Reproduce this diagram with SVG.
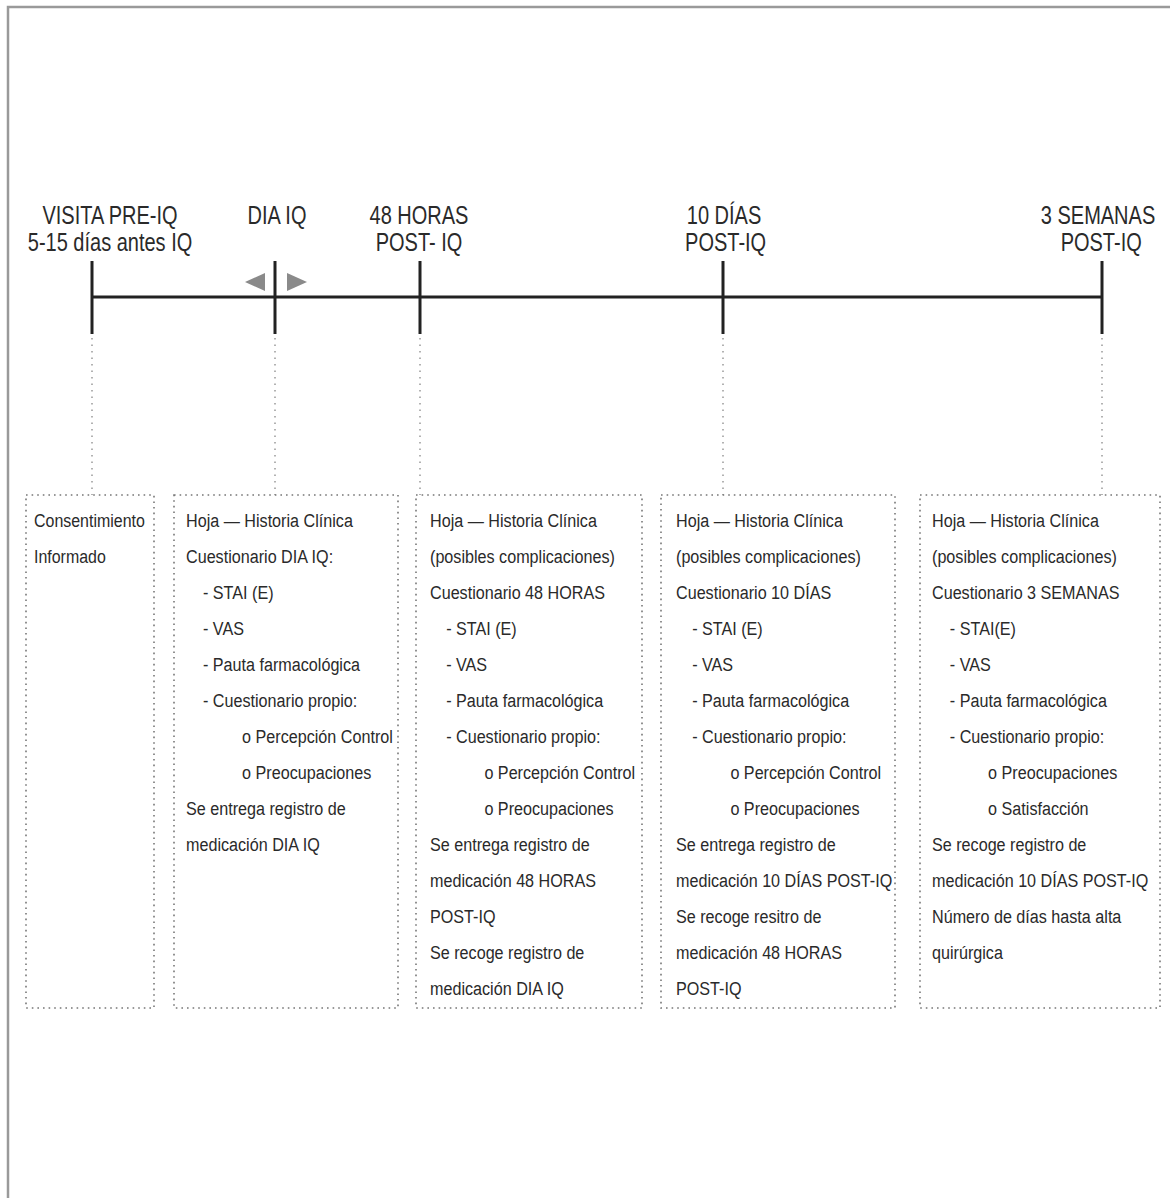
<svg xmlns="http://www.w3.org/2000/svg" width="1170" height="1198" viewBox="0 0 1170 1198">
<style>
text{font-family:"Liberation Sans",Arial,sans-serif;fill:#2a2a2a}
.h{font-size:25px;text-anchor:middle}
.t{font-size:19px}
.box{fill:none;stroke:#777;stroke-width:1.6;stroke-dasharray:1.6 4}
.drop{fill:none;stroke:#999;stroke-width:1.5;stroke-dasharray:1.5 5}
.axis{stroke:#222;stroke-width:3;fill:none}
.arr{fill:#8a8a8a}
</style>
<rect x="0" y="0" width="1170" height="1198" fill="#fff"/>
<path d="M8 1198 V7 H1170" fill="none" stroke="#9a9a9a" stroke-width="2.5"/>
<g id="connectors">
<path class="axis" d="M92 297 H1102"/>
<path class="axis" d="M92 261 V334 M275 261 V334 M420 261 V334 M723 261 V334 M1102 261 V334"/>
<path class="drop" d="M92 338 V495 M275 338 V495 M420 338 V495 M723 338 V495 M1102 338 V495"/>
<polygon class="arr" points="245,282 265,273 265,291"/>
<polygon class="arr" points="307,282 287,273 287,291"/>
</g>
<g id="label-pre" transform="translate(110 0) scale(0.8 1)">
<text class="h" x="0" y="224">VISITA PRE-IQ</text>
<text class="h" x="0" y="251">5-15 días antes IQ</text>
</g>
<g id="label-dia" transform="translate(277 0) scale(0.8 1)">
<text class="h" x="0" y="224">DIA IQ</text>
</g>
<g id="label-48h" transform="translate(419 0) scale(0.8 1)">
<text class="h" x="0" y="224">48 HORAS</text>
<text class="h" x="0" y="251">POST- IQ</text>
</g>
<g id="label-10d" transform="translate(724 0) scale(0.8 1)">
<text class="h" x="0" y="224">10 DÍAS</text>
<text class="h" x="2" y="251">POST-IQ</text>
</g>
<g id="label-3s" transform="translate(1098 0) scale(0.8 1)">
<text class="h" x="0" y="224">3 SEMANAS</text>
<text class="h" x="4" y="251">POST-IQ</text>
</g>
<g id="box-pre">
<rect class="box" x="26" y="495" width="128" height="513"/>
<g transform="translate(34 0) scale(0.84 1)">
<text class="t" x="0" y="527">Consentimiento</text>
<text class="t" x="0" y="563">Informado</text>
</g>
</g>
<g id="box-dia">
<rect class="box" x="174" y="495" width="224" height="513"/>
<g transform="translate(186 0) scale(0.85 1)">
<text class="t" x="0" y="527">Hoja — Historia Clínica</text>
<text class="t" x="0" y="563">Cuestionario DIA IQ:</text>
<text class="t" x="20" y="599">- STAI (E)</text>
<text class="t" x="20" y="635">- VAS</text>
<text class="t" x="20" y="671">- Pauta farmacológica</text>
<text class="t" x="20" y="707">- Cuestionario propio:</text>
<text class="t" x="66" y="743">o Percepción Control</text>
<text class="t" x="66" y="779">o Preocupaciones</text>
<text class="t" x="0" y="815">Se entrega registro de</text>
<text class="t" x="0" y="851">medicación DIA IQ</text>
</g>
</g>
<g id="box-48h">
<rect class="box" x="416" y="495" width="226" height="513"/>
<g transform="translate(430 0) scale(0.85 1)">
<text class="t" x="0" y="527">Hoja — Historia Clínica</text>
<text class="t" x="0" y="563">(posibles complicaciones)</text>
<text class="t" x="0" y="599">Cuestionario 48 HORAS</text>
<text class="t" x="19" y="635">- STAI (E)</text>
<text class="t" x="19" y="671">- VAS</text>
<text class="t" x="19" y="707">- Pauta farmacológica</text>
<text class="t" x="19" y="743">- Cuestionario propio:</text>
<text class="t" x="64" y="779">o Percepción Control</text>
<text class="t" x="64" y="815">o Preocupaciones</text>
<text class="t" x="0" y="851">Se entrega registro de</text>
<text class="t" x="0" y="887">medicación 48 HORAS</text>
<text class="t" x="0" y="923">POST-IQ</text>
<text class="t" x="0" y="959">Se recoge registro de</text>
<text class="t" x="0" y="995">medicación DIA IQ</text>
</g>
</g>
<g id="box-10d">
<rect class="box" x="661" y="495" width="234" height="513"/>
<g transform="translate(676 0) scale(0.85 1)">
<text class="t" x="0" y="527">Hoja — Historia Clínica</text>
<text class="t" x="0" y="563">(posibles complicaciones)</text>
<text class="t" x="0" y="599">Cuestionario 10 DÍAS</text>
<text class="t" x="19" y="635">- STAI (E)</text>
<text class="t" x="19" y="671">- VAS</text>
<text class="t" x="19" y="707">- Pauta farmacológica</text>
<text class="t" x="19" y="743">- Cuestionario propio:</text>
<text class="t" x="64" y="779">o Percepción Control</text>
<text class="t" x="64" y="815">o Preocupaciones</text>
<text class="t" x="0" y="851">Se entrega registro de</text>
<text class="t" x="0" y="887">medicación 10 DÍAS POST-IQ</text>
<text class="t" x="0" y="923">Se recoge resitro de</text>
<text class="t" x="0" y="959">medicación 48 HORAS</text>
<text class="t" x="0" y="995">POST-IQ</text>
</g>
</g>
<g id="box-3s">
<rect class="box" x="920" y="495" width="240" height="513"/>
<g transform="translate(932 0) scale(0.85 1)">
<text class="t" x="0" y="527">Hoja — Historia Clínica</text>
<text class="t" x="0" y="563">(posibles complicaciones)</text>
<text class="t" x="0" y="599">Cuestionario 3 SEMANAS</text>
<text class="t" x="21" y="635">- STAI(E)</text>
<text class="t" x="21" y="671">- VAS</text>
<text class="t" x="21" y="707">- Pauta farmacológica</text>
<text class="t" x="21" y="743">- Cuestionario propio:</text>
<text class="t" x="66" y="779">o Preocupaciones</text>
<text class="t" x="66" y="815">o Satisfacción</text>
<text class="t" x="0" y="851">Se recoge registro de</text>
<text class="t" x="0" y="887">medicación 10 DÍAS POST-IQ</text>
<text class="t" x="0" y="923">Número de días hasta alta</text>
<text class="t" x="0" y="959">quirúrgica</text>
</g>
</g>
</svg>
